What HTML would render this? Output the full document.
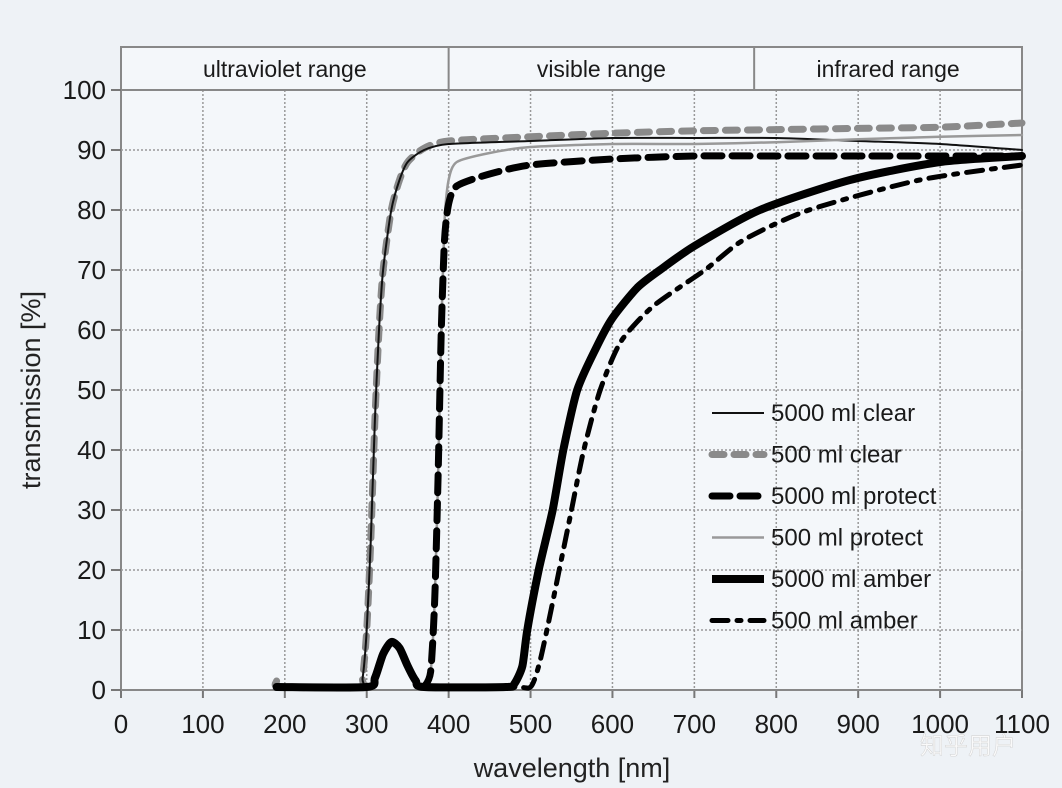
<!DOCTYPE html>
<html><head><meta charset="utf-8"><style>
body{margin:0;background:#eef2f6;}
svg{display:block;font-family:"Liberation Sans","Noto Sans CJK SC",sans-serif;}
</style></head><body>
<svg id="chart" width="1062" height="788" viewBox="0 0 1062 788">
<rect x="0" y="0" width="1062" height="788" fill="#eef2f6"/>
<g id="grid"></g>
<g id="header"></g>
<g id="axes"></g>
<g id="series"></g>
<g id="legend"></g>
<text x="572" y="777" font-size="27" text-anchor="middle" fill="#222">wavelength [nm]</text>
<text transform="translate(40,390) rotate(-90)" font-size="27" text-anchor="middle" fill="#222">transmission [%]</text>
<text x="968" y="754" font-size="24" text-anchor="middle" fill="#fafafa" stroke="#ccc" stroke-width="0.4">知乎用户</text>
</svg>
<script>
const xTicks=[0,100,200,300,400,500,600,700,800,900,1000,1100];
const yTicks=[0,10,20,30,40,50,60,70,80,90,100];
const ranges=["ultraviolet range","visible range","infrared range"];
const rangeBounds=[0,400,773,1100];
const seriesNames=["5000 ml clear","500 ml clear","5000 ml protect","500 ml protect","5000 ml amber","500 ml amber"];
const clear5000X=[190,290,295,300,305,310,315,320,330,340,350,370,400,500,600,700,800,900,1000,1100];
const clear5000Y=[0.5,0.5,2,10,25,45,60,70,80,85,88,90,91,91.5,92,92,92,91.5,91,90];
const clear500X=[190,195,290,295,300,305,310,315,320,330,340,350,370,400,500,600,700,800,900,1000,1100];
const clear500Y=[1.5,0.5,0.5,2,10,25,45,60,70,80,85,88,90.3,91.5,92.2,92.8,93.2,93.4,93.6,93.8,94.5];
const protect5000X=[370,378,383,387,391,395,400,410,450,500,600,700,800,900,1000,1100];
const protect5000Y=[0.5,3,15,35,60,75,81,84,86,87.5,88.5,89,89,89,89,89];
const protect500X=[370,378,383,387,391,395,400,410,450,500,600,700,800,900,1000,1100];
const protect500Y=[0.5,3,15,35,60,78,85,88,89.5,90.5,91,91,91.3,91.8,92.2,92.5];
const amber5000X=[190,300,310,320,330,340,350,360,370,470,480,490,496,510,527,540,557,580,600,630,658,700,780,890,1000,1100];
const amber5000Y=[0.5,0.5,2,6,8,7,4,1.5,0.5,0.5,1,4,10,20,30,40,50,57,62,67,70,74,80,85,88,89];
const amber500X=[190,300,310,320,330,340,350,360,370,480,500,510,520,535,550,565,585,610,650,713,760,840,975,1100];
const amber500Y=[0.5,0.5,2,6,8,7,4,1.5,0.5,0.5,0.5,4,10,20,30,40,50,58,64,70,75,80,85,87.5];
const NS="http://www.w3.org/2000/svg";
const X0=121,X1=1022,Y0=690,Y1=90;
const sx=v=>X0+v/1100*(X1-X0);
const sy=v=>Y0-v/100*(Y0-Y1);
function mk(t,a,p){const e=document.createElementNS(NS,t);for(const k in a)e.setAttribute(k,a[k]);p.appendChild(e);return e;}
function smooth(pts){let d='M'+pts[0][0].toFixed(1)+','+pts[0][1].toFixed(1);
for(let i=0;i<pts.length-1;i++){const p0=pts[Math.max(0,i-1)],p1=pts[i],p2=pts[i+1],p3=pts[Math.min(pts.length-1,i+2)];
const k=0.12;const c1=[p1[0]+(p2[0]-p0[0])*k,p1[1]+(p2[1]-p0[1])*k],c2=[p2[0]-(p3[0]-p1[0])*k,p2[1]-(p3[1]-p1[1])*k];
d+='C'+c1[0].toFixed(1)+','+c1[1].toFixed(1)+' '+c2[0].toFixed(1)+','+c2[1].toFixed(1)+' '+p2[0].toFixed(1)+','+p2[1].toFixed(1);}
return d;}
const grid=document.getElementById('grid'),axes=document.getElementById('axes'),hdr=document.getElementById('header'),ser=document.getElementById('series'),leg=document.getElementById('legend');
mk('rect',{x:X0,y:47,width:X1-X0,height:Y0-47,fill:'#f4f7fa',stroke:'#888','stroke-width':2},grid);
xTicks.forEach(t=>{if(t>0&&t<1100){const l=mk('line',{x1:sx(t),x2:sx(t),y1:Y1,y2:Y0,stroke:'#999','stroke-width':1.5,'stroke-dasharray':'2,2'},grid);

}
const tk=mk('line',{x1:sx(t),x2:sx(t),y1:Y0,y2:Y0+8,stroke:'#777','stroke-width':2},axes);


const tx=mk('text',{x:sx(t),y:733,'font-size':26,'text-anchor':'middle',fill:'#1a1a1a'},axes);tx.textContent=t;

});
yTicks.forEach(t=>{if(t>0&&t<100){const l=mk('line',{x1:X0,x2:X1,y1:sy(t),y2:sy(t),stroke:'#999','stroke-width':1.5,'stroke-dasharray':'2,2'},grid);

}
const tk=mk('line',{x1:X0-10,x2:X0,y1:sy(t),y2:sy(t),stroke:'#777','stroke-width':2},axes);


const tx=mk('text',{x:106,y:sy(t)+9,'font-size':26,'text-anchor':'end',fill:'#1a1a1a'},axes);tx.textContent=t;

});
mk('line',{x1:X0,x2:X1,y1:Y1,y2:Y1,stroke:'#888','stroke-width':2},hdr);
mk('line',{x1:X0,x2:X1,y1:Y0,y2:Y0,stroke:'#888','stroke-width':2},axes);
ranges.forEach((r,i)=>{const a=sx(rangeBounds[i]),b=sx(rangeBounds[i+1]);
if(i>0)mk('line',{x1:a,x2:a,y1:47,y2:Y1,stroke:'#888','stroke-width':2},hdr);
const t=mk('text',{x:(a+b)/2,y:77,'font-size':23,'text-anchor':'middle',fill:'#1a1a1a'},hdr);t.textContent=r;

});
const styles=[
{stroke:'#111',w:2,dash:''},
{stroke:'#8a8a8a',w:7,dash:'12,10'},
{stroke:'#000',w:7,dash:'18,10'},
{stroke:'#999',w:2.5,dash:''},
{stroke:'#000',w:8,dash:''},
{stroke:'#000',w:5,dash:'16,9,4,9'}];
const data=[[clear500X,clear500Y,1],[clear5000X,clear5000Y,0],[protect500X,protect500Y,3],[protect5000X,protect5000Y,2],[amber500X,amber500Y,5],[amber5000X,amber5000Y,4]];
data.forEach(([xs,ys,i])=>{const s=styles[i];
const d=smooth(xs.map((x,j)=>[sx(x),sy(ys[j])]));
const p=mk('path',{d:d,fill:'none',stroke:s.stroke,'stroke-width':s.w,'stroke-dasharray':s.dash,'stroke-linejoin':'round','stroke-linecap':s.dash?'round':'round'},ser);

});
seriesNames.forEach((n,i)=>{const s=styles[i];const y=413+i*41.5;
const g=mk('g',{},leg);


mk('line',{x1:712,x2:764,y1:y,y2:y,stroke:s.stroke,'stroke-width':s.w,'stroke-dasharray':s.dash,'stroke-linecap':s.dash?'round':'butt'},g);
const t=mk('text',{x:771,y:y+8,'font-size':24,fill:'#1a1a1a'},g);t.textContent=n;});
</script>
</body></html>
